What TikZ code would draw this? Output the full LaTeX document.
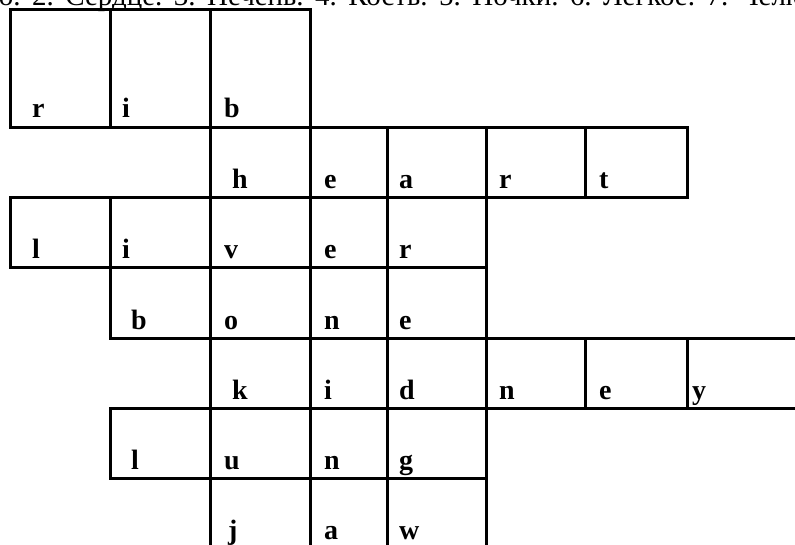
\documentclass[tikz,border=0pt]{standalone}
\usepackage{fontspec}
\setmainfont{Liberation Serif}
\newcommand{\widespaces}{\frenchspacing\spaceskip=11.5pt plus 1pt\relax}
\begin{document}
\begin{tikzpicture}[x=1pt,y=-1pt,
  grid/.style={line width=3pt,line cap=rect},
  letter/.style={anchor=base west,inner sep=0pt,font=\fontsize{28}{32}\selectfont\bfseries},
  toptext/.style={anchor=base west,inner sep=0pt,font=\fontsize{29}{33}\selectfont}]
\useasboundingbox (0,0) rectangle (795,545);
\clip (0,0) rectangle (795,545);
% top line of text (clipped)
\node[toptext] (title) at (-92.5,6) {\widespaces 1. Ребро. 2. Сердце. 3. Печень. 4. Кость. 5. Почки. 6. Легкое. 7. Челюсть.};
% horizontal lines
\draw[grid] (10,10) -- (310,10);
\draw[grid] (10,127.5) -- (687,127.5);
\draw[grid] (10,198) -- (687,198);
\draw[grid] (10,268) -- (486,268);
\draw[grid] (110,338) -- (800,338);
\draw[grid] (110,408) -- (800,408);
\draw[grid] (110,478) -- (486,478);
% vertical lines
\draw[grid] (10,10) -- (10,127.5);
\draw[grid] (10,198) -- (10,268);
\draw[grid] (110,10) -- (110,127.5);
\draw[grid] (110,198) -- (110,338);
\draw[grid] (110,408) -- (110,478);
\draw[grid] (210,10) -- (210,550);
\draw[grid] (310,10) -- (310,550);
\draw[grid] (387,127.5) -- (387,550);
\draw[grid] (486,127.5) -- (486,550);
\draw[grid] (585,127.5) -- (585,198);
\draw[grid] (585,338) -- (585,408);
\draw[grid] (687,127.5) -- (687,198);
\draw[grid] (687,338) -- (687,408);
% rib
\node[letter] (r1) at (32,118) {r};
\node[letter] (i1) at (122,118) {i};
\node[letter] (b1) at (224,118) {b};
% heart
\node[letter] (h2) at (232,189) {h};
\node[letter] (e2) at (324,189) {e};
\node[letter] (a2) at (399,189) {a};
\node[letter] (r2) at (499,189) {r};
\node[letter] (t2) at (599,189) {t};
% liver
\node[letter] (l3) at (32,259) {l};
\node[letter] (i3) at (122,259) {i};
\node[letter] (v3) at (224,259) {v};
\node[letter] (e3) at (324,259) {e};
\node[letter] (r3) at (399,259) {r};
% bone
\node[letter] (b4) at (131,329) {b};
\node[letter] (o4) at (224,329) {o};
\node[letter] (n4) at (324,329) {n};
\node[letter] (e4) at (399,329) {e};
% kidney
\node[letter] (k5) at (232,399) {k};
\node[letter] (i5) at (324,399) {i};
\node[letter] (d5) at (399,399) {d};
\node[letter] (n5) at (499,399) {n};
\node[letter] (e5) at (599,399) {e};
\node[letter] (y5) at (692,399) {y};
% lung
\node[letter] (l6) at (131,469) {l};
\node[letter] (u6) at (224,469) {u};
\node[letter] (n6) at (324,469) {n};
\node[letter] (g6) at (399,469) {g};
% jaw
\node[letter] (j7) at (228,539) {j};
\node[letter] (a7) at (324,539) {a};
\node[letter] (w7) at (399,539) {w};
\end{tikzpicture}
\end{document}
